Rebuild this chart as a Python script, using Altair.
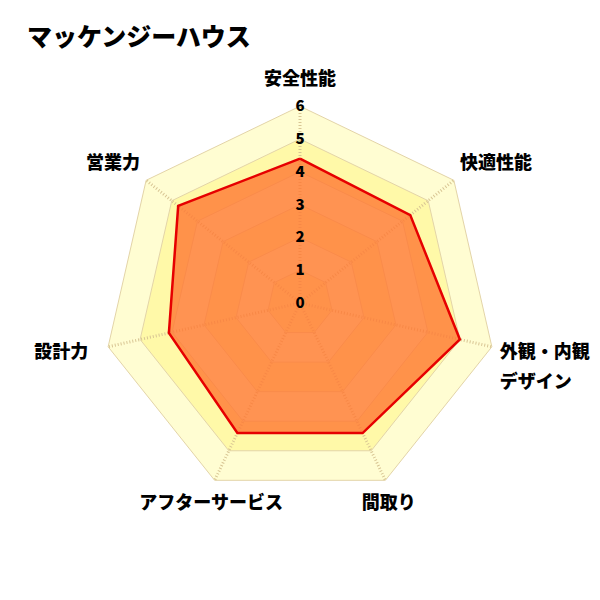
import altair as alt
import pandas as pd

# ---------------- data ----------------
title_text = "マッケンジーハウス"
categories = ["安全性能", "快適性能", "外観・内観\nデザイン", "間取り", "アフターサービス", "設計力", "営業力"]
scores = [4.4, 4.3, 5.0, 4.4, 4.4, 4.1, 4.75]
tick_values = [0, 1, 2, 3, 4, 5, 6]

n = len(categories)
max_value = tick_values[-1]

# ---------------- styling ----------------
FONT = "Noto Sans CJK JP"
PX = 32.8                      # pixels per value unit
W, H = 584, 524
CX, CY = 292, 235              # centre inside the view (px)
xdom = [-CX / PX, (W - CX) / PX]
ydom = [-(H - CY) / PX, CY / PX]

band_light = "#fffdd2"
band_deep = "#fff9a8"
ring_color = "#e3d4a8"
spoke_color = "#d8c594"
poly_fill = "#ff7832"
poly_stroke = "#e60000"

xs = alt.Scale(domain=xdom, nice=False, zero=False)
ys = alt.Scale(domain=ydom, nice=False, zero=False)

def X(f):
    return alt.X(f + ":Q", scale=xs, axis=None, title=None)

def Y(f):
    return alt.Y(f + ":Q", scale=ys, axis=None, title=None)

# ---------------- tables ----------------
grid_df = pd.DataFrame([{"level": L, "k": k} for L in tick_values[1:] for k in range(n + 1)])
data_df = pd.DataFrame({"k": list(range(n + 1)), "value": scores + [scores[0]]})
cat_df = pd.DataFrame({"k": list(range(n)), "cat": categories})
tick_df = pd.DataFrame({"tick": tick_values})

ang = f"2*PI*datum.k/{n}"

layers = []

# background bands (largest first)
for L in sorted(tick_values[1:], reverse=True):
    col = band_light if (max_value - L) % 2 == 0 else band_deep
    layers.append(
        alt.Chart(grid_df)
        .transform_filter(f"datum.level == {L}")
        .transform_calculate(a=ang)
        .transform_calculate(px="datum.level*sin(datum.a)", py="datum.level*cos(datum.a)")
        .mark_line(fill=col, stroke=ring_color, strokeWidth=1)
        .encode(x=X("px"), y=Y("py"), order=alt.Order("k:Q"))
    )

# dotted spokes
layers.append(
    alt.Chart(cat_df)
    .transform_calculate(a=ang)
    .transform_calculate(
        x0="0", y0="0",
        x1=f"{max_value}*sin(datum.a)", y1=f"{max_value}*cos(datum.a)")
    .mark_rule(stroke=spoke_color, strokeWidth=3, strokeDash=[1, 2])
    .encode(x=X("x0"), y=Y("y0"), x2="x1:Q", y2="y1:Q")
)

# data polygon
layers.append(
    alt.Chart(data_df)
    .transform_calculate(a=ang)
    .transform_calculate(px="datum.value*sin(datum.a)", py="datum.value*cos(datum.a)")
    .mark_line(fill=poly_fill, fillOpacity=0.8, stroke=poly_stroke, strokeWidth=2.5)
    .encode(x=X("px"), y=Y("py"), order=alt.Order("k:Q"))
)

# tick labels
layers.append(
    alt.Chart(tick_df)
    .transform_calculate(zx="0")
    .mark_text(font=FONT, fontSize=15, fontWeight=900, color="black",
               align="center", baseline="middle")
    .encode(x=X("zx"), y=Y("tick"), text="tick:Q")
)

# category labels
r_lab = max_value + 8 / PX
off = 18 / PX
lab = (
    alt.Chart(cat_df)
    .transform_calculate(a=ang)
    .transform_calculate(
        s="sin(datum.a)",
        lx=f"{r_lab}*sin(datum.a) - (sin(datum.a) < -0.9 ? {12 / PX} : 0)",
        ly=f"({r_lab}+{off})*cos(datum.a)",
    )
)
for cond, al in [("datum.s > 0.5", "left"), ("datum.s < -0.5", "right"),
                 ("abs(datum.s) <= 0.5", "center")]:
    layers.append(
        lab.transform_filter(cond)
        .mark_text(font=FONT, fontSize=18, fontWeight=900, color="black",
                   align=al, baseline="middle", lineBreak="\n", lineHeight=30)
        .encode(x=X("lx"), y=Y("ly"), text="cat:N")
    )

chart = (
    alt.layer(*layers)
    .properties(
        width=W, height=H,
        autosize="none",
        padding={"left": 0, "top": 60, "right": 0, "bottom": 0},
        title=alt.TitleParams(text=title_text, anchor="start", font=FONT, fontSize=25,
                              fontWeight=900, color="black", dx=19, offset=17),
    )
    .configure_view(strokeWidth=0)
)

chart.save("out.html", embed_options={"renderer": "svg", "actions": False})
